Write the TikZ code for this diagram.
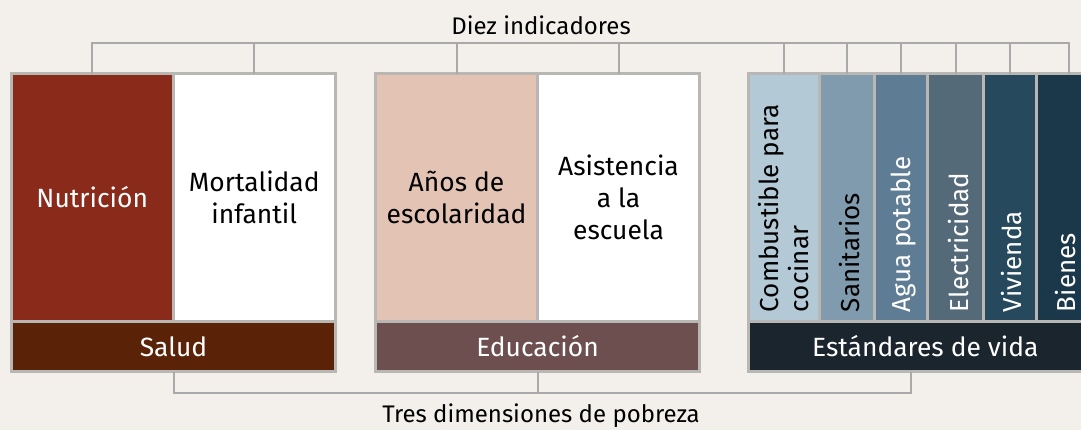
\documentclass[tikz,border=0pt]{standalone}
\usepackage{fontspec}
\setmainfont{Fira Sans}
\usetikzlibrary{positioning}
\definecolor{bgpaper}{HTML}{F3F0EC}
\definecolor{boxline}{HTML}{B9B7B4}
\definecolor{brackline}{HTML}{A9A9A9}
\definecolor{nutfill}{HTML}{8A2A1A}
\definecolor{saludfill}{HTML}{5A2307}
\definecolor{anosfill}{HTML}{E3C3B4}
\definecolor{edufill}{HTML}{6E4F50}
\definecolor{combfill}{HTML}{B3C9D6}
\definecolor{sanfill}{HTML}{809BAD}
\definecolor{aguafill}{HTML}{5E7C93}
\definecolor{elecfill}{HTML}{546A79}
\definecolor{vivfill}{HTML}{26495E}
\definecolor{bienfill}{HTML}{1A384A}
\definecolor{vidafill}{HTML}{1A252D}
\tikzset{
  cell/.style={draw=boxline, line width=1.5pt, inner sep=0pt, outer sep=0pt,
    minimum height=124pt, align=center, font=\fontsize{13.2}{16}\selectfont},
  bar/.style={draw=boxline, line width=1.5pt, inner sep=0pt, outer sep=0pt,
    minimum height=25pt, text=white, anchor=north west, font=\fontsize{13.2}{16}\selectfont},
  vlabel/.style={rotate=90, anchor=west, inner sep=0pt, align=left,
    font=\fontsize{13}{15}\selectfont},
  brack/.style={draw=brackline, line width=1pt},
  caption/.style={font=\fontsize{12}{14}\selectfont},
}

\begin{document}
\begin{tikzpicture}[x=0.5pt, y=-0.5pt]
\useasboundingbox (0,0) rectangle (1081,430);
\clip (0,0) rectangle (1081,430);
\fill[bgpaper] (0,0) rectangle (1081,430);

% salud
\node[cell, fill=nutfill, text=white, minimum width=80.75pt, anchor=north west] (nut) at (11.5,73.5) {Nutrición};
\node[cell, fill=white, minimum width=81.25pt, right=0pt of nut] (mort) {Mortalidad\\infantil};
\node[bar, fill=saludfill, minimum width=162pt, below right=0pt of nut.south west] (salud) {Salud};

% educacion
\node[cell, fill=anosfill, minimum width=81pt, anchor=north west] (anos) at (375.5,73.5) {Años de\\escolaridad};
\node[cell, fill=white, minimum width=81pt, right=0pt of anos] (asis) {Asistencia\\a la\\escuela};
\node[bar, fill=edufill, minimum width=162pt, below right=0pt of anos.south west] (edu) {Educación};

% estandares de vida
\node[cell, fill=combfill, minimum width=35.25pt, anchor=north west] (comb) at (748.5,73.5) {};
\node[cell, fill=sanfill, minimum width=27.5pt, right=0pt of comb] (san) {};
\node[cell, fill=aguafill, minimum width=26.75pt, right=0pt of san] (agua) {};
\node[cell, fill=elecfill, minimum width=28pt, right=0pt of agua] (elec) {};
\node[cell, fill=vivfill, minimum width=26.5pt, right=0pt of elec] (viv) {};
\node[cell, fill=bienfill, minimum width=32.75pt, right=0pt of viv] (bie) {};
\node[bar, fill=vidafill, minimum width=176.75pt, below right=0pt of comb.south west] (vida) {Estándares de vida};

\node[vlabel] (lcomb) at ([yshift=4.5pt]comb.south) {Combustible para\\cocinar};
\node[vlabel] (lsan) at ([xshift=1.5pt,yshift=4.5pt]san.south) {Sanitarios};
\node[vlabel, text=white] (lagua) at ([xshift=1.5pt,yshift=4.5pt]agua.south) {Agua potable};
\node[vlabel, text=white] (lelec) at ([xshift=1.5pt,yshift=4.5pt]elec.south) {Electricidad};
\node[vlabel, text=white] (lviv) at ([xshift=1pt,yshift=4.5pt]viv.south) {Vivienda};
\node[vlabel, text=white] (lbie) at ([xshift=-2pt,yshift=4.5pt]bie.south) {Bienes};

% llaves
\node[caption] (diez) at (541,25) {Diez indicadores};
\coordinate (topline) at (0,43);
\draw[brack] (nut.north) -- (nut.north |- topline) -| (bie.north);
\foreach \c in {mort,anos,asis,comb,san,agua,elec,viv}
  \draw[brack] (\c.north) -- (\c.north |- topline);

\coordinate (botline) at (0,392.5);
\draw[brack] (salud.south) -- (salud.south |- botline) -| ([xshift=-7pt]vida.south);
\draw[brack] (edu.south) -- (edu.south |- botline);
\node[caption] (tres) at (541,416) {Tres dimensiones de pobreza};
\end{tikzpicture}
\end{document}
